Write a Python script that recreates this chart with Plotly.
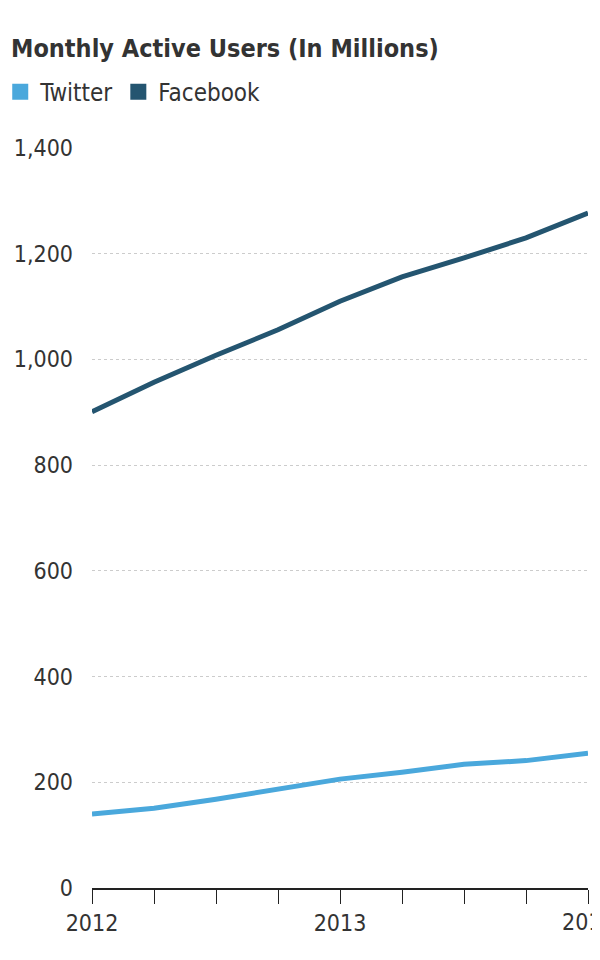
import plotly.graph_objects as go

quarters = [2012, 2012.25, 2012.5, 2012.75, 2013, 2013.25, 2013.5, 2013.75, 2014]
twitter = [140, 151, 168, 187, 206, 219, 234, 241, 255]
facebook = [901, 957, 1008, 1056, 1110, 1156, 1192, 1230, 1277]
year_ticks = [2012, 2013]
last_year = 2014
y_ticks = [0, 200, 400, 600, 800, 1000, 1200, 1400]

TW = "#4aa8dc"
FB = "#245570"
FONT = "DejaVu Sans Condensed, Liberation Sans Narrow, sans-serif"

fig = go.Figure()
fig.add_trace(go.Scatter(x=quarters, y=twitter, mode="lines", line=dict(color=TW, width=5), showlegend=False))
fig.add_trace(go.Scatter(x=quarters, y=facebook, mode="lines", line=dict(color=FB, width=5), showlegend=False))
# legend squares
for name, c in [("Twitter", TW), ("Facebook", FB)]:
    fig.add_trace(go.Scatter(x=[None], y=[None], mode="markers", name=name,
                             marker=dict(symbol="square", size=16, color=c)))

fig.update_layout(
    width=600, height=960,
    margin=dict(l=84, r=20, t=140, b=80, autoexpand=False),
    plot_bgcolor="white", paper_bgcolor="white",
    font=dict(family=FONT, size=23, color="#333"),
    title=dict(text="<b>Monthly Active Users (In Millions)</b>", x=0.005, xref="container", xanchor="left",
               y=0.958, yanchor="middle", font=dict(size=25, color="#333")),
    legend=dict(orientation="h", x=-0.185, xanchor="left", y=1.045, yanchor="bottom",
                font=dict(size=24), tracegroupgap=0),
)
fig.add_annotation(x=last_year, y=0, xref="x", yref="y", text=str(last_year), showarrow=False,
                   yshift=-34, xanchor="center", font=dict(size=23, color="#333"))
fig.update_xaxes(range=[2012, 2014], tickvals=year_ticks, ticktext=[str(v) for v in year_ticks],
                 showgrid=False, showline=True, linecolor="#222", linewidth=1.5,
                 ticks="outside", ticklen=14, tickcolor="#222", automargin=False,
                 minor=dict(dtick=0.25, tick0=2012, ticks="outside", ticklen=14, tickcolor="#222"),
                 zeroline=False)
fig.update_yaxes(range=[0, 1400], tickvals=y_ticks, tickformat=",", showgrid=True,
                 gridcolor="#ccc", griddash="dot", gridwidth=1, zeroline=False, automargin=False,
                 ticks="", ticklabelstandoff=18)

fig.write_html("out.html")
